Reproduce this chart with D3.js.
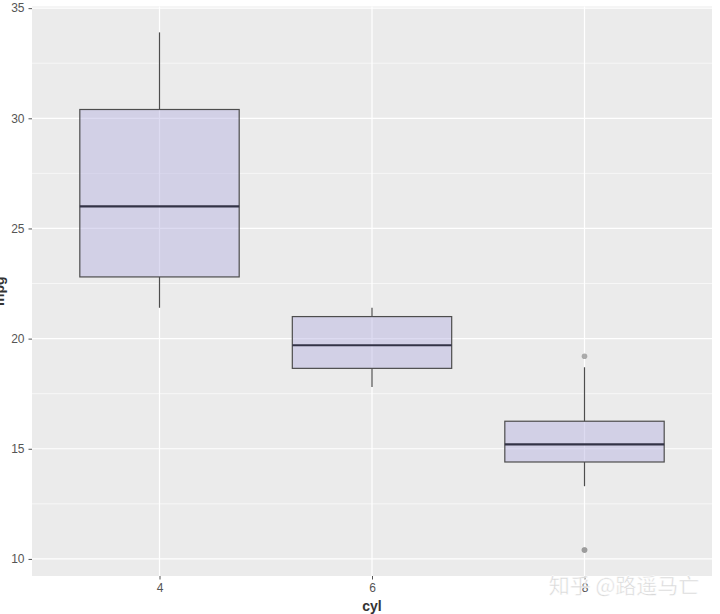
<!DOCTYPE html>
<html><head><meta charset="utf-8">
<script src="https://cdn.jsdelivr.net/npm/d3@7"></script>
<style>body{margin:0;background:#fff;}svg{display:block;font-family:"Liberation Sans",Arial,sans-serif;}</style>
</head><body>
<script>
const categories = ["4","6","8"];
const whiskerLow = [21.4, 17.8, 13.3];
const q1 = [22.8, 18.65, 14.4];
const median = [26.0, 19.7, 15.2];
const q3 = [30.4, 21.0, 16.25];
const whiskerHigh = [33.9, 21.4, 18.7];
const outliers = [[], [], [10.4, 10.4, 19.2]];
const yTicks = [10, 15, 20, 25, 30, 35];
const xTitle = "cyl", yTitle = "mpg";
const watermark = "知乎 @路遥马亡";

const W = 720, H = 614;
const panel = {left: 32, right: 712, top: 6.5, bottom: 576};
const svg = d3.select("body").append("svg").attr("width", W).attr("height", H);

// ggplot discrete expansion: 0.6 units each side
const xc = d3.scaleLinear().domain([0.4, 3.6]).range([panel.left, panel.right]);
const y = d3.scaleLinear().domain([9.225, 35.075]).range([panel.bottom, panel.top]);

svg.append("rect").attr("x", panel.left).attr("y", panel.top)
  .attr("width", panel.right - panel.left).attr("height", panel.bottom - panel.top).attr("fill", "#ebebeb");

const g = svg.append("g");
const minor = d3.range(12.5, 35, 5);
g.selectAll(".ymin").data(minor).join("line")
  .attr("x1", panel.left).attr("x2", panel.right)
  .attr("y1", d => y(d)).attr("y2", d => y(d))
  .attr("stroke", "#fff").attr("stroke-width", 0.6);
g.selectAll(".ymaj").data(yTicks).join("line")
  .attr("x1", panel.left).attr("x2", panel.right)
  .attr("y1", d => y(d)).attr("y2", d => y(d))
  .attr("stroke", "#fff").attr("stroke-width", 1.2);
g.selectAll(".xmaj").data(categories).join("line")
  .attr("x1", (d, i) => xc(i + 1)).attr("x2", (d, i) => xc(i + 1))
  .attr("y1", panel.top).attr("y2", panel.bottom)
  .attr("stroke", "#fff").attr("stroke-width", 1.2);

const bw = (xc(1.375) - xc(0.625));
const boxes = svg.append("g");
categories.forEach((c, i) => {
  const cx = xc(i + 1);
  boxes.append("line").attr("x1", cx).attr("x2", cx)
    .attr("y1", y(q3[i])).attr("y2", y(whiskerHigh[i])).attr("stroke", "#4d4d4d").attr("stroke-width", 1.2);
  boxes.append("line").attr("x1", cx).attr("x2", cx)
    .attr("y1", y(q1[i])).attr("y2", y(whiskerLow[i])).attr("stroke", "#4d4d4d").attr("stroke-width", 1.2);
  boxes.append("rect").attr("x", cx - bw / 2).attr("width", bw)
    .attr("y", y(q3[i])).attr("height", y(q1[i]) - y(q3[i]))
    .attr("fill", "rgba(180,175,225,0.45)").attr("stroke", "#4d4d4d").attr("stroke-width", 1.2);
  boxes.append("line").attr("x1", cx - bw / 2).attr("x2", cx + bw / 2)
    .attr("y1", y(median[i])).attr("y2", y(median[i])).attr("stroke", "#333346").attr("stroke-width", 2.2);
  boxes.selectAll(null).data(outliers[i]).join("circle")
    .attr("cx", cx).attr("cy", d => y(d)).attr("r", 2.8)
    .attr("fill", "#999").attr("fill-opacity", 0.8);
});

const yAxis = d3.axisLeft(y).tickValues(yTicks).tickSize(3.5).tickPadding(4);
const ya = svg.append("g").attr("transform", `translate(${panel.left},0)`).call(yAxis);
ya.select(".domain").remove();
ya.selectAll("line").attr("stroke", "#555");
ya.selectAll("text").attr("fill", "#555").attr("font-size", 12);

const xAxis = d3.axisBottom(xc).tickValues([1, 2, 3]).tickFormat((d, i) => categories[i]).tickSize(3.5).tickPadding(4);
const xa = svg.append("g").attr("transform", `translate(0,${panel.bottom})`).call(xAxis);
xa.select(".domain").remove();
xa.selectAll("line").attr("stroke", "#555");
xa.selectAll("text").attr("fill", "#555").attr("font-size", 12);

svg.append("text").attr("x", xc(2)).attr("y", 611).attr("text-anchor", "middle")
  .attr("font-size", 14).attr("font-weight", "bold").attr("fill", "#333").text(xTitle);
svg.append("text").attr("transform", `translate(4,${(panel.top + panel.bottom) / 2}) rotate(-90)`)
  .attr("text-anchor", "middle").attr("font-size", 14).attr("font-weight", "bold").attr("fill", "#333").text(yTitle);

svg.append("text").attr("x", 624).attr("y", 593).attr("text-anchor", "middle")
  .attr("font-family", "Noto Sans CJK SC").attr("font-size", 21).attr("fill", "#d4d4d4")
  .attr("stroke", "#fff").attr("stroke-width", 0.5).attr("opacity", 0.9).text(watermark);
</script>
</body></html>
